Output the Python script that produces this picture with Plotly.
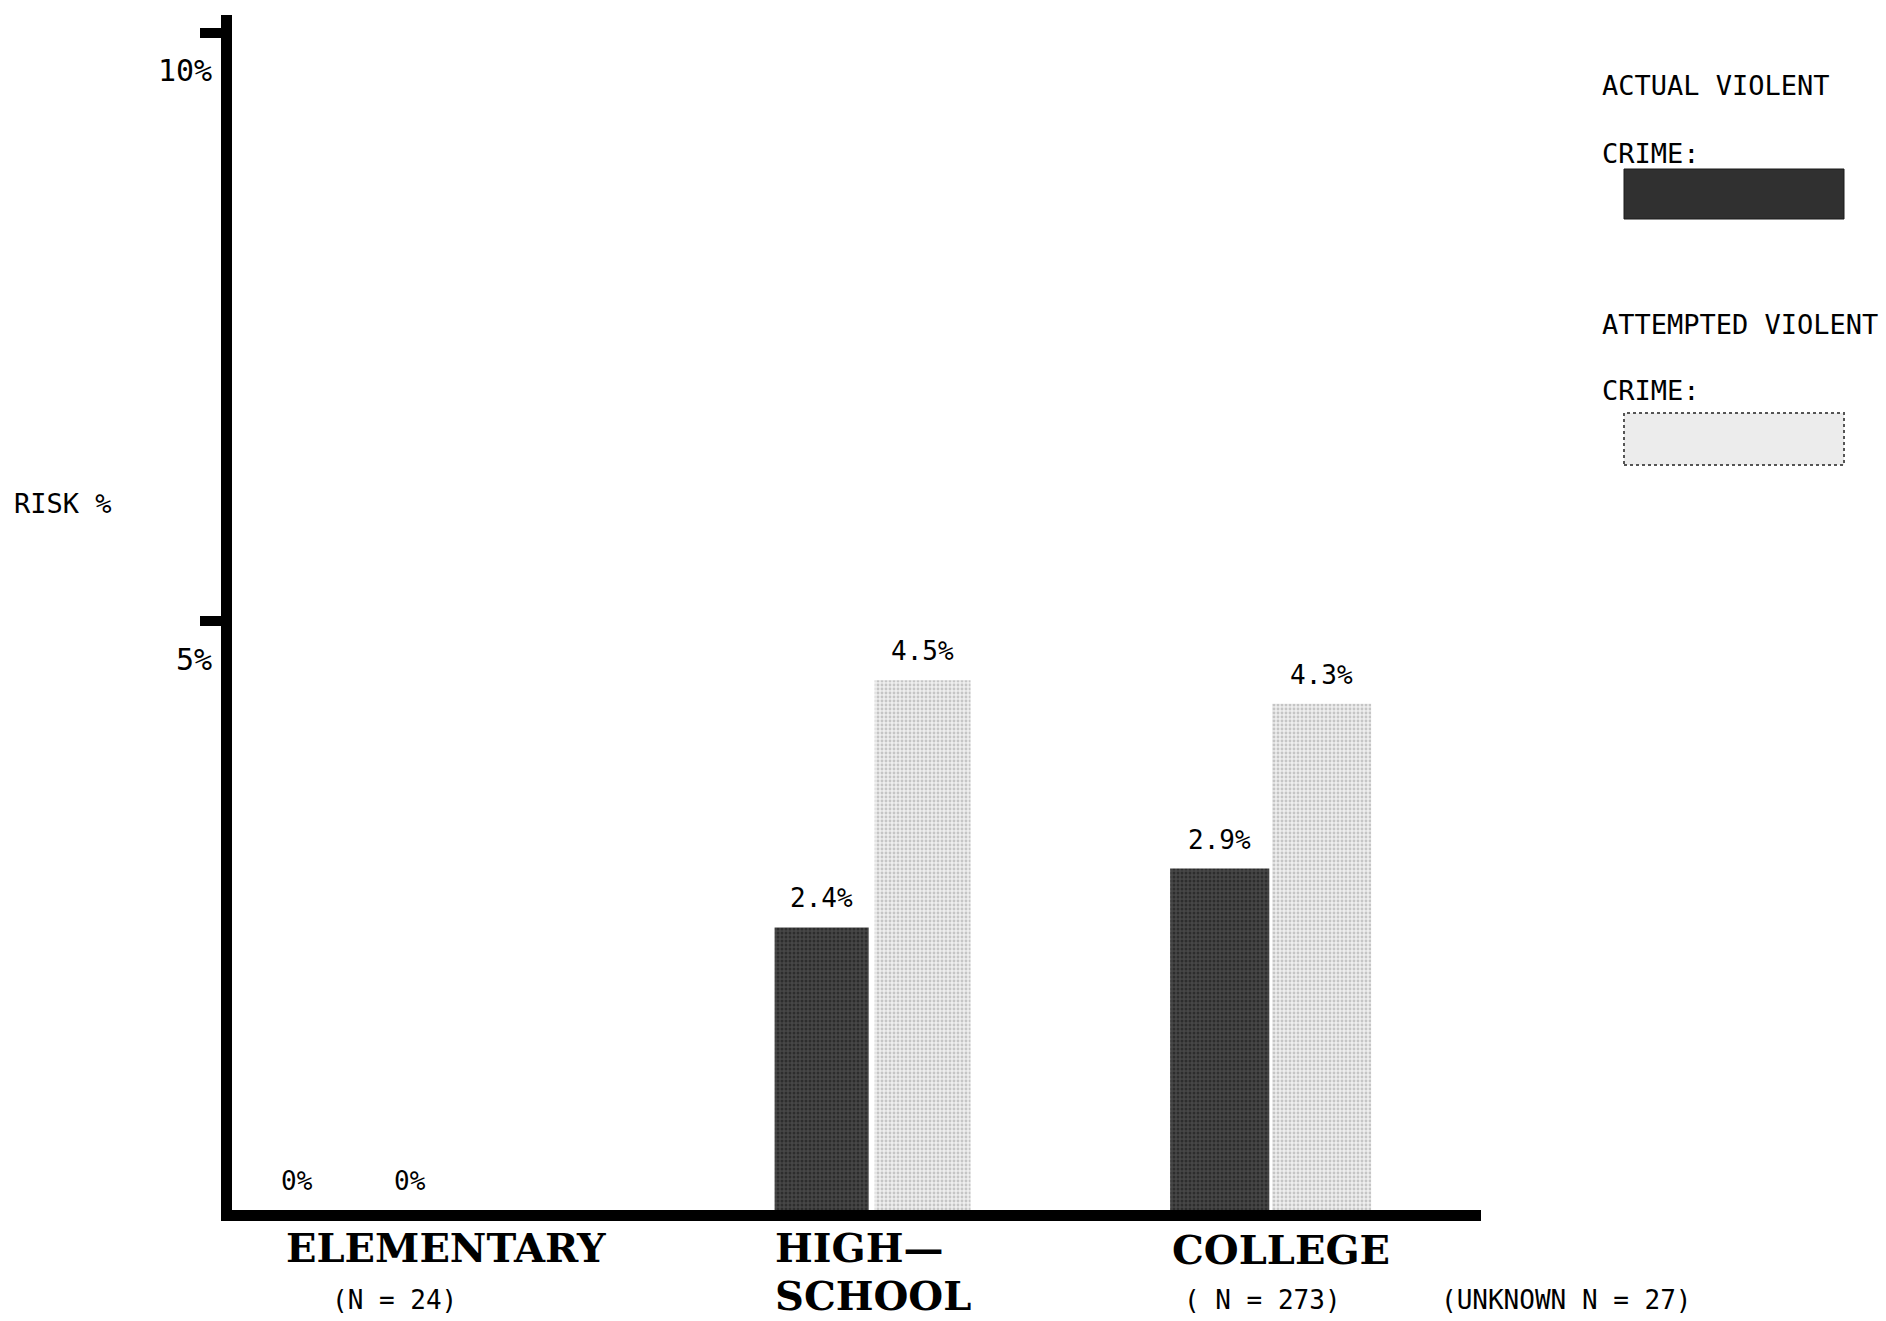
import plotly.graph_objects as go

# ---------------- data ----------------
categories = ["ELEMENTARY", "HIGH—SCHOOL", "COLLEGE"]
actual_violent = [0, 2.4, 2.9]
attempted_violent = [0, 4.5, 4.3]
y_tick_values = [5, 10]
y_tick_labels = ["5%", "10%"]
series_names = ["ACTUAL VIOLENT CRIME", "ATTEMPTED VIOLENT CRIME"]
category_titles = [["ELEMENTARY"], ["HIGH—", "SCHOOL"], ["COLLEGE"]]
category_counts = ["(N = 24)", None, "( N = 273)"]
unknown_count = "(UNKNOWN N = 27)"
y_title = "RISK %"

# ---------------- layout constants ----------------
W, H = 1886, 1321
L, R, T, B = 232, 405, 15, 111
PW = W - L - R
PH = H - T - B

MONO = "DejaVu Sans Mono, Liberation Mono, monospace"
SERIF = "DejaVu Serif, Liberation Serif, serif"

# per-bar placement within category slots (left-edge offset, width), in category units
ACT_OFF = [-0.227, -0.081, -0.219]
ACT_W = [0.209, 0.205, 0.216]
ATT_OFF = [0.020, 0.137, 0.003]
ATT_W = [0.209, 0.209, 0.216]

DARK_BG, DARK_FG = "#474747", "#141414"
LIGHT_BG, LIGHT_FG = "#eeeeee", "#9c9c9c"


def px(xp):
    return (xp - L) / PW


def py(yp):
    return (H - B - yp) / PH


def fmt(v):
    return f"{v:g}%"


fig = go.Figure()

fig.add_trace(go.Bar(
    x=categories, y=actual_violent, name=series_names[0],
    offset=ACT_OFF, width=ACT_W,
    marker=dict(color=DARK_BG, line=dict(width=0),
                pattern=dict(shape=".", fgcolor=DARK_FG, bgcolor=DARK_BG,
                             size=4, solidity=0.45)),
    showlegend=False, hoverinfo="skip",
))
fig.add_trace(go.Bar(
    x=categories, y=attempted_violent, name=series_names[1],
    offset=ATT_OFF, width=ATT_W,
    marker=dict(color=LIGHT_BG, line=dict(width=0),
                pattern=dict(shape=".", fgcolor=LIGHT_FG, bgcolor=LIGHT_BG,
                             size=4, solidity=0.4)),
    showlegend=False, hoverinfo="skip",
))

annotations = []

# value labels above each bar (typed a little above the bar tops)
for values, offs, widths in ((actual_violent, ACT_OFF, ACT_W),
                             (attempted_violent, ATT_OFF, ATT_W)):
    for i, v in enumerate(values):
        annotations.append(dict(
            text=fmt(v), xref="x", x=i + offs[i] + widths[i] / 2,
            yref="y", y=v, xanchor="center", yanchor="middle",
            yshift=29, showarrow=False,
            font=dict(family=MONO, size=26, color="black")))

# y tick labels (printed just below each tick in the original)
for v, lab in zip(y_tick_values, y_tick_labels):
    annotations.append(dict(
        text=lab, xref="paper", x=0, xanchor="right", xshift=-18,
        yref="y", y=v, yanchor="middle", yshift=-38, showarrow=False,
        font=dict(family=MONO, size=30, color="black")))

# y axis title
annotations.append(dict(
    text=y_title, xref="paper", x=px(12), xanchor="left",
    yref="paper", y=py(504), yanchor="middle", showarrow=False,
    font=dict(family=MONO, size=27, color="black")))

# category titles
title_pos = [[(284, 1247)], [(773, 1247), (773, 1295)], [(1170, 1249)]]
for lines, positions in zip(category_titles, title_pos):
    for line, (xp, yp) in zip(lines, positions):
        annotations.append(dict(
            text=f"<b>{line}</b>", xref="paper", x=px(xp), xanchor="left",
            yref="paper", y=py(yp), yanchor="middle", showarrow=False,
            font=dict(family=SERIF, size=40, color="black")))

count_pos = [(330, 1300), None, (1182, 1300)]
for txt, pos in zip(category_counts, count_pos):
    if txt is None:
        continue
    annotations.append(dict(
        text=txt, xref="paper", x=px(pos[0]), xanchor="left",
        yref="paper", y=py(pos[1]), yanchor="middle", showarrow=False,
        font=dict(family=MONO, size=26, color="black")))

annotations.append(dict(
    text=unknown_count, xref="paper", x=px(1439), xanchor="left",
    yref="paper", y=py(1300), yanchor="middle", showarrow=False,
    font=dict(family=MONO, size=26, color="black")))

# legend texts
legend_lines = [("ACTUAL VIOLENT", 85), ("CRIME:", 154),
                ("ATTEMPTED VIOLENT", 324), ("CRIME:", 390)]
for txt, yp in legend_lines:
    annotations.append(dict(
        text=txt, xref="paper", x=px(1600), xanchor="left",
        yref="paper", y=py(yp), yanchor="middle", showarrow=False,
        font=dict(family=MONO, size=27, color="black")))

shapes = [
    dict(type="rect", xref="paper", yref="paper",
         x0=px(1624), x1=px(1844), y0=py(219), y1=py(169),
         fillcolor="#303030", line=dict(color="#1a1a1a", width=1)),
    dict(type="rect", xref="paper", yref="paper",
         x0=px(1624), x1=px(1844), y0=py(465), y1=py(413),
         fillcolor="#ececec", line=dict(color="#555555", width=2, dash="dot")),
]

fig.update_layout(
    width=W, height=H,
    margin=dict(l=L, r=R, t=T, b=B, autoexpand=False),
    paper_bgcolor="white", plot_bgcolor="white",
    barmode="overlay",
    showlegend=False,
    annotations=annotations,
    shapes=shapes,
    font=dict(family=MONO, color="black"),
    xaxis=dict(
        type="category", range=[-0.2635, 2.4584], fixedrange=True,
        showline=True, linecolor="black", linewidth=11,
        showgrid=False, zeroline=False, ticks="", showticklabels=False,
    ),
    yaxis=dict(
        range=[0, 10.15], fixedrange=True,
        showline=True, linecolor="black", linewidth=11,
        showgrid=False, zeroline=False,
        tickmode="array", tickvals=y_tick_values, ticktext=y_tick_labels,
        ticks="outside", ticklen=21, tickwidth=10, tickcolor="black",
        showticklabels=False,
    ),
)

fig.write_html(
    "out.html",
    config={"displayModeBar": False, "staticPlot": True},
    post_script="document.body.style.margin='0';"
                "document.body.style.overflow='hidden';"
                "document.documentElement.style.overflow='hidden';",
)
